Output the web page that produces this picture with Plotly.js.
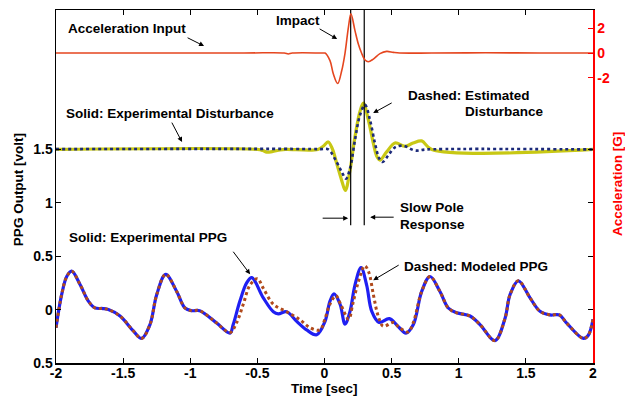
<!DOCTYPE html>
<html>
<head>
<meta charset="utf-8">
<script src="https://cdn.plot.ly/plotly-3.0.1.min.js"></script>
<style>html,body{margin:0;padding:0;background:#fff;}#chart{width:625px;height:396px;}</style>
</head>
<body>
<div id="chart"></div>
<script>
// ---- Data ----
// Acceleration input [G] (right axis)
const tAcc = [-2, -0.6, -0.3, -0.27, -0.24, 0, 0.004, 0.041, 0.066, 0.098, 0.128, 0.153, 0.178, 0.197, 0.227, 0.252, 0.276, 0.302, 0.326, 0.364, 0.413, 0.463, 0.513, 0.56, 0.8, 1.2, 1.6, 2];
const acc  = [0, 0, 0, -0.08, 0, 0, 0, -0.62, -1.7, -2.47, -1.44, 0, 2.08, 3.17, 1.81, 0.73, 0, -0.57, -0.71, -0.49, -0.05, 0.13, 0.05, 0, 0, 0.02, 0, 0];

// Disturbance: experimental (solid) and estimated (dashed)
const tDist   = [-2, -0.5, -0.46, -0.43, -0.39, -0.33, -0.29, -0.05, -0.01, 0.028, 0.06, 0.091, 0.128, 0.155, 0.19, 0.227, 0.264, 0.289, 0.327, 0.364, 0.389, 0.413, 0.463, 0.525, 0.6, 0.66, 0.724, 0.799, 2];
const distExp = [1.5, 1.5, 1.49, 1.475, 1.48, 1.495, 1.5, 1.5, 1.53, 1.57, 1.5, 1.368, 1.21, 1.116, 1.305, 1.62, 1.855, 1.934, 1.776, 1.557, 1.437, 1.40, 1.477, 1.56, 1.53, 1.56, 1.58, 1.5, 1.5];
const tDistEst = [-2, -0.03, 0.028, 0.091, 0.128, 0.16, 0.19, 0.227, 0.264, 0.302, 0.339, 0.376, 0.408, 0.433, 0.476, 0.525, 0.587, 0.674, 0.761, 2];
const distEst  = [1.503, 1.503, 1.5, 1.38, 1.29, 1.226, 1.32, 1.588, 1.82, 1.918, 1.776, 1.557, 1.415, 1.383, 1.446, 1.52, 1.535, 1.49, 1.5, 1.5];

// PPG: experimental (solid) and modeled (dashed)
const tPPG   = [-2, -1.958, -1.92, -1.883, -1.821, -1.759, -1.71, -1.65, -1.61, -1.523, -1.424, -1.362, -1.3, -1.25, -1.183, -1.101, -1.039, -0.99, -0.93, -0.803, -0.704, -0.68, -0.63, -0.58, -0.542, -0.456, -0.381, -0.344, -0.282, -0.207, -0.133, -0.058, 0.004, 0.041, 0.071, 0.116, 0.153, 0.19, 0.227, 0.272, 0.314, 0.352, 0.407, 0.483, 0.55, 0.607, 0.662, 0.724, 0.786, 0.86, 0.922, 0.985, 1.084, 1.158, 1.27, 1.345, 1.382, 1.444, 1.531, 1.605, 1.68, 1.75, 1.804, 1.928, 1.965, 2];
const ppgExp = [-0.17, 0.14, 0.31, 0.36, 0.236, 0.08, 0.016, 0.01, 0.0, -0.06, -0.2, -0.27, -0.14, 0.14, 0.33, 0.17, 0.015, -0.01, -0.01, -0.126, -0.22, -0.14, 0.08, 0.25, 0.30, 0.11, -0.02, -0.04, -0.02, -0.11, -0.19, -0.236, -0.11, 0.08, 0.147, 0.05, -0.135, -0.016, 0.23, 0.393, 0.23, -0.016, -0.12, -0.085, -0.16, -0.22, -0.14, 0.17, 0.31, 0.17, 0.015, -0.03, -0.06, -0.14, -0.29, -0.08, 0.14, 0.27, 0.11, -0.016, -0.05, -0.05, -0.126, -0.27, -0.24, -0.09];
const tPPGm  = [-2, -1.958, -1.92, -1.883, -1.821, -1.759, -1.71, -1.65, -1.61, -1.523, -1.424, -1.362, -1.3, -1.25, -1.183, -1.101, -1.039, -0.99, -0.93, -0.803, -0.704, -0.654, -0.605, -0.555, -0.5, -0.456, -0.381, -0.282, -0.183, -0.108, -0.034, 0.0, 0.04, 0.085, 0.12, 0.18, 0.21, 0.25, 0.30, 0.33, 0.364, 0.40, 0.437, 0.513, 0.55, 0.622, 0.662, 0.724, 0.786, 0.86, 0.922, 0.985, 1.084, 1.158, 1.27, 1.345, 1.382, 1.444, 1.531, 1.605, 1.68, 1.75, 1.804, 1.928, 1.965, 2];
const ppgMod = [-0.17, 0.14, 0.31, 0.36, 0.236, 0.08, 0.016, 0.01, 0.0, -0.06, -0.2, -0.27, -0.14, 0.14, 0.33, 0.17, 0.015, -0.01, -0.01, -0.126, -0.215, -0.12, 0.05, 0.23, 0.29, 0.2, 0.05, -0.02, -0.095, -0.17, -0.19, -0.1, 0.05, 0.13, 0.05, -0.09, 0.05, 0.25, 0.41, 0.35, 0.14, -0.06, -0.155, -0.12, -0.16, -0.21, -0.12, 0.17, 0.31, 0.17, 0.015, -0.03, -0.06, -0.14, -0.29, -0.08, 0.14, 0.27, 0.11, -0.016, -0.05, -0.05, -0.126, -0.27, -0.24, -0.09];

// Impact / slow-pole markers (vertical lines)
const markerTimes = [0.195, 0.296];
const markerSpan = [0.79, 3.0];

// Tick labels
const xTicks = [-2, -1.5, -1, -0.5, 0, 0.5, 1, 1.5, 2];
const xTickText = ['-2', '-1.5', '-1', '-0.5', '0', '0.5', '1', '1.5', '2'];
const yTicks = [-0.5, 0, 0.5, 1, 1.5];
const yTickText = ['0.5', '0', '0.5', '1', '1.5'];
const y2Ticks = [-2, 0, 2];
const y2TickText = ['-2', '0', '2'];

// ---- Layout helpers (pixel -> paper) ----
const L = 56, R = 592.7, T = 10, B = 362.7;
const px = x => (x - L) / (R - L);
const py = y => (B - y) / (B - T);
const FONT = 'Liberation Sans, Arial, sans-serif';

const traces = [
  {x: tDist, y: distExp, type: 'scatter', mode: 'lines', line: {color: '#c8c814', width: 3.2, shape: 'spline', smoothing: 1}, xaxis: 'x', yaxis: 'y'},
  {x: tDistEst, y: distEst, type: 'scatter', mode: 'lines', line: {color: '#1c2a7a', width: 2.6, dash: 'dot', shape: 'spline', smoothing: 1}, xaxis: 'x', yaxis: 'y'},
  {x: tPPG, y: ppgExp, type: 'scatter', mode: 'lines', line: {color: '#1f1ff2', width: 3.2, shape: 'spline', smoothing: 1}, xaxis: 'x', yaxis: 'y'},
  {x: tPPGm, y: ppgMod, type: 'scatter', mode: 'lines', line: {color: '#b04a1c', width: 3, dash: 'dot', shape: 'spline', smoothing: 1}, xaxis: 'x', yaxis: 'y'}
];
markerTimes.forEach(t => traces.push({x: [t, t], y: markerSpan, type: 'scatter', mode: 'lines', line: {color: '#000', width: 1.2}, xaxis: 'x', yaxis: 'y'}));
traces.push({x: tAcc, y: acc, type: 'scatter', mode: 'lines', line: {color: '#e5461f', width: 1.6, shape: 'spline', smoothing: 1}, xaxis: 'x', yaxis: 'y2'});

const txt = (s, x, y, extra) => Object.assign({text: s, xref: 'paper', yref: 'paper', x: px(x), y: py(y), xanchor: 'left', yanchor: 'middle', showarrow: false, font: {family: FONT, size: 13.5, color: '#000', weight: 'bold'}}, extra || {});
const arrow = (tx, ty, hx, hy) => ({text: '', xref: 'paper', yref: 'paper', x: px(hx), y: py(hy), ax: tx - hx, ay: ty - hy, axref: 'pixel', ayref: 'pixel', showarrow: true, arrowhead: 2, arrowsize: 1, arrowwidth: 1, arrowcolor: '#000', standoff: 0, startstandoff: 0});

const annotations = [
  txt('Acceleration Input', 66, 28.5),
  arrow(186, 37, 204, 46),
  txt('Impact', 274, 20),
  arrow(318, 28, 337, 39),
  txt('Dashed: Estimated', 406, 95),
  txt('Disturbance', 463, 111),
  arrow(393, 102, 373, 113),
  txt('Solid: Experimental Disturbance', 64, 113),
  arrow(171, 121, 182, 142),
  txt('Slow Pole', 398, 207.5),
  txt('Response', 398, 224),
  arrow(321, 218, 348, 218),
  arrow(395, 217, 370, 217),
  txt('Solid: Experimental PPG', 67, 237),
  arrow(232, 250, 250, 274),
  txt('Dashed: Modeled PPG', 402, 266),
  arrow(400, 264, 373, 280),
  // axis titles
  txt('Time [sec]', 324, 388, {xanchor: 'center', font: {family: FONT, size: 13.5, color: '#000', weight: 'bold'}}),
  txt('PPG Output [volt]', 18, 189, {xanchor: 'center', textangle: -90, font: {family: FONT, size: 13.5, color: '#000', weight: 'bold'}}),
  txt('Acceleration [G]', 616.5, 184, {xanchor: 'center', textangle: -90, font: {family: FONT, size: 13.5, color: '#ff0000', weight: 'bold'}})
];

const layout = {
  width: 625, height: 396,
  margin: {l: L, r: 625 - R, t: T, b: 396 - B, pad: 0},
  paper_bgcolor: '#fff', plot_bgcolor: '#fff',
  showlegend: false,
  xaxis: {range: [-2, 2], tickvals: xTicks, ticktext: xTickText, ticks: 'inside', ticklen: 5, tickcolor: '#000', tickwidth: 1,
          showline: true, linecolor: '#000', linewidth: 1.5, mirror: 'ticks', showgrid: false, zeroline: false, ticklabelstandoff: -3,
          tickfont: {family: FONT, size: 14, color: '#000', weight: 'bold'}},
  yaxis: {range: [-0.5, 2.806], tickvals: yTicks, ticktext: yTickText, ticks: 'inside', ticklen: 5, tickcolor: '#000', tickwidth: 1,
          showline: true, linecolor: '#000', linewidth: 1.5, mirror: 'ticks', showgrid: false, zeroline: false, ticklabelstandoff: -1,
          tickfont: {family: FONT, size: 14, color: '#000', weight: 'bold'}},
  yaxis2: {range: [-25.08, 3.48], overlaying: 'y', side: 'right', tickvals: y2Ticks, ticktext: y2TickText, ticks: 'inside', ticklen: 5,
           tickcolor: '#ff0000', tickwidth: 1, showline: true, linecolor: '#ff0000', linewidth: 1.5, showgrid: false, zeroline: false,
           tickfont: {family: FONT, size: 14, color: '#ff0000', weight: 'bold'}},
  annotations: annotations
};

Plotly.newPlot('chart', traces, layout, {staticPlot: true, displayModeBar: false});
</script>
</body>
</html>
